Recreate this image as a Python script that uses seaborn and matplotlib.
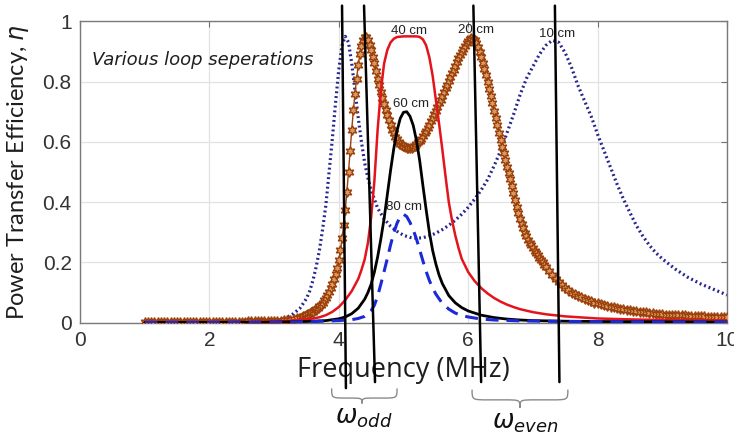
import numpy as np
import pandas as pd
import matplotlib
matplotlib.use("Agg")
import matplotlib.pyplot as plt
import seaborn as sns
from matplotlib.path import Path
from matplotlib.patches import PathPatch

# ---------------- data ----------------
# 10 cm separation (navy dotted)
f10 = [1.0, 1.5, 2.0, 2.5, 2.8, 3.0, 3.1, 3.2, 3.3, 3.4, 3.5,
       3.55, 3.6, 3.65, 3.7, 3.75, 3.8, 3.85, 3.9, 3.95, 4.0, 4.05, 4.1, 4.15, 4.2,
       4.25, 4.3, 4.35, 4.4, 4.45, 4.5,
       4.6, 4.7, 4.8, 4.9, 5.0, 5.1, 5.2, 5.3, 5.4, 5.5,
       5.6, 5.7, 5.8, 5.9, 6.0, 6.1, 6.2, 6.3, 6.4, 6.5,
       6.6, 6.7, 6.8, 6.9, 7.0, 7.1, 7.2, 7.3, 7.4, 7.5,
       7.6, 7.7, 7.8, 7.9, 8.0, 8.1, 8.2, 8.3, 8.4, 8.5,
       8.6, 8.7, 8.8, 8.9, 9.0, 9.2, 9.4, 9.6, 9.8, 10.0]
eta10 = [0.001, 0.001, 0.001, 0.002, 0.004, 0.006, 0.010, 0.018, 0.030, 0.048, 0.080,
         0.105, 0.140, 0.185, 0.240, 0.310, 0.390, 0.500, 0.610, 0.730, 0.840, 0.920, 0.950, 0.930, 0.860,
         0.770, 0.680, 0.600, 0.530, 0.480, 0.440,
         0.380, 0.345, 0.320, 0.303, 0.290, 0.283, 0.280, 0.282, 0.288, 0.297,
         0.309, 0.323, 0.340, 0.360, 0.383, 0.410, 0.440, 0.475, 0.520, 0.570,
         0.630, 0.690, 0.755, 0.810, 0.850, 0.890, 0.920, 0.937, 0.930, 0.895,
         0.845, 0.785, 0.735, 0.685, 0.625, 0.570, 0.515, 0.460, 0.410, 0.365,
         0.322, 0.287, 0.257, 0.232, 0.212, 0.178, 0.150, 0.128, 0.110, 0.092]

# 20 cm separation (brown, hexagram markers) - sampled on a fine frequency grid
f20 = np.round(np.concatenate([np.arange(1.0, 3.401, 0.05),
                               np.arange(3.425, 7.2001, 0.025),
                               np.arange(7.25, 10.0001, 0.05)]), 3)
eta20 = [
    # 1.00 - 3.40 (step 0.05)
    0.002, 0.002, 0.002, 0.002, 0.002, 0.002, 0.002, 0.002, 0.002, 0.002, 0.002,
    0.002, 0.002, 0.002, 0.002, 0.002, 0.002, 0.002, 0.002, 0.002, 0.002,
    0.002, 0.002, 0.002, 0.002, 0.002, 0.003, 0.003, 0.003, 0.003, 0.003,
    0.003, 0.004, 0.004, 0.004, 0.004, 0.005, 0.005, 0.005, 0.006, 0.006,
    0.007, 0.007, 0.008, 0.009, 0.010, 0.012, 0.014, 0.016,
    # 3.425 - 3.975 (step 0.025)
    0.018, 0.021, 0.023, 0.026, 0.028, 0.031, 0.034, 0.037, 0.041, 0.045, 0.049, 0.054,
    0.060, 0.067, 0.075, 0.083, 0.092, 0.103, 0.115, 0.130, 0.146, 0.160, 0.182,
    # 4.000 - 4.975
    0.208, 0.240, 0.280, 0.325, 0.375, 0.435, 0.500, 0.570, 0.640, 0.705,
    0.760, 0.810, 0.855, 0.890, 0.918, 0.938, 0.948, 0.948, 0.938, 0.923,
    0.905, 0.883, 0.860, 0.835, 0.810, 0.787, 0.765, 0.744, 0.725, 0.707,
    0.690, 0.672, 0.655, 0.641, 0.628, 0.617, 0.608, 0.600, 0.594, 0.589,
    # 5.000 - 5.975
    0.585, 0.582, 0.580, 0.579, 0.579, 0.580, 0.583, 0.587, 0.592, 0.598,
    0.604, 0.611, 0.619, 0.628, 0.637, 0.647, 0.657, 0.668, 0.680, 0.692,
    0.704, 0.716, 0.728, 0.740, 0.753, 0.765, 0.778, 0.790, 0.803, 0.815,
    0.828, 0.840, 0.853, 0.865, 0.877, 0.888, 0.898, 0.908, 0.918, 0.927,
    # 6.000 - 6.975
    0.934, 0.940, 0.943, 0.942, 0.937, 0.927, 0.915, 0.899, 0.882, 0.863,
    0.843, 0.822, 0.800, 0.776, 0.752, 0.728, 0.703, 0.679, 0.655, 0.631,
    0.607, 0.584, 0.562, 0.540, 0.518, 0.497, 0.477, 0.453, 0.430, 0.407,
    0.385, 0.364, 0.345, 0.328, 0.313, 0.299, 0.287, 0.276, 0.266, 0.257,
    # 7.000 - 7.200
    0.248, 0.239, 0.231, 0.223, 0.215, 0.208, 0.200, 0.193, 0.186,
    # 7.25 - 10.0 (step 0.05)
    0.172, 0.158, 0.146, 0.134, 0.124, 0.115, 0.107, 0.100, 0.094, 0.089,
    0.084, 0.079, 0.075, 0.071, 0.067, 0.064, 0.061, 0.058, 0.055, 0.053,
    0.051, 0.049, 0.047, 0.045, 0.043, 0.041, 0.040, 0.038, 0.036, 0.035,
    0.034, 0.032, 0.031, 0.030, 0.029, 0.028, 0.027, 0.026, 0.026, 0.025,
    0.025, 0.024, 0.024, 0.023, 0.023, 0.022, 0.022, 0.021, 0.021, 0.020,
    0.020, 0.019, 0.019, 0.019, 0.018, 0.018]

# 40 cm separation (red solid)
f40 = [1.0, 2.0, 2.5, 3.0, 3.2, 3.4, 3.6, 3.7, 3.8, 3.9, 4.0, 4.1, 4.2, 4.3,
       4.35, 4.4, 4.45, 4.5, 4.55, 4.6, 4.65, 4.7, 4.75, 4.8, 4.85, 4.9,
       5.0, 5.1, 5.2,
       5.25, 5.3, 5.35, 5.4, 5.45, 5.5, 5.55, 5.6, 5.65, 5.7, 5.75, 5.8, 5.85, 5.9,
       6.0, 6.1, 6.2, 6.3, 6.4, 6.5, 6.6, 6.7, 6.8,
       7.0, 7.2, 7.5, 8.0, 8.5, 9.0, 9.5, 10.0]
eta40 = [0.001, 0.001, 0.002, 0.004, 0.006, 0.009, 0.014, 0.018, 0.025, 0.036, 0.052, 0.075, 0.105, 0.145,
         0.175, 0.210, 0.265, 0.350, 0.470, 0.640, 0.770, 0.860, 0.905, 0.930, 0.942, 0.948,
         0.950, 0.950, 0.950,
         0.948, 0.940, 0.920, 0.880, 0.820, 0.740, 0.660, 0.575, 0.485, 0.400, 0.340, 0.290, 0.248, 0.212,
         0.168, 0.138, 0.115, 0.097, 0.082, 0.070, 0.060, 0.052, 0.045,
         0.035, 0.028, 0.021, 0.014, 0.011, 0.009, 0.008, 0.007]

# 60 cm separation (black solid)
f60 = [1.0, 2.0, 3.0, 3.5, 3.8, 4.0, 4.1, 4.2, 4.3, 4.4,
       4.45, 4.5, 4.55, 4.6, 4.65, 4.7, 4.75, 4.8, 4.85, 4.9, 4.95, 5.0,
       5.05, 5.1, 5.15, 5.2, 5.25, 5.3, 5.35, 5.4, 5.45, 5.5, 5.55, 5.6,
       5.7, 5.8, 5.9, 6.0, 6.2, 6.4, 6.6, 6.8, 7.0, 7.5, 8.0, 9.0, 10.0]
eta60 = [0.001, 0.001, 0.002, 0.004, 0.007, 0.013, 0.019, 0.030, 0.048, 0.078,
         0.100, 0.128, 0.168, 0.218, 0.278, 0.345, 0.425, 0.505, 0.578, 0.637, 0.678, 0.698,
         0.700, 0.685, 0.655, 0.605, 0.538, 0.455, 0.375, 0.300, 0.240, 0.195, 0.158, 0.130,
         0.090, 0.066, 0.050, 0.039, 0.025, 0.017, 0.012, 0.009, 0.007, 0.005, 0.004, 0.003, 0.002]

# 80 cm separation (blue dashed)
f80 = [1.0, 2.0, 3.0, 3.5, 4.0, 4.2, 4.3, 4.4,
       4.45, 4.5, 4.55, 4.6, 4.65, 4.7, 4.75, 4.8, 4.85, 4.9, 4.95, 5.0,
       5.05, 5.1, 5.15, 5.2, 5.25, 5.3, 5.35, 5.4, 5.45, 5.5,
       5.6, 5.7, 5.8, 5.9, 6.0, 6.2, 6.4, 6.8, 7.5, 8.5, 10.0]
eta80 = [0.001, 0.001, 0.002, 0.003, 0.007, 0.010, 0.014, 0.021,
         0.029, 0.040, 0.058, 0.088, 0.128, 0.170, 0.213, 0.258, 0.298, 0.330, 0.352, 0.360,
         0.352, 0.333, 0.308, 0.278, 0.242, 0.205, 0.170, 0.140, 0.115, 0.095,
         0.064, 0.045, 0.032, 0.024, 0.019, 0.012, 0.009, 0.006, 0.004, 0.003, 0.002]

# curve labels: text, frequency, efficiency
curve_labels = ["10 cm", "20 cm", "40 cm", "60 cm", "80 cm"]
label_f = [7.37, 6.12, 5.08, 5.12, 5.01]
label_eta = [0.958, 0.970, 0.968, 0.727, 0.384]

# odd / even mode marker lines (frequency at top and bottom of each hand-drawn line)
mode_f_top = [4.05, 4.39, 6.08, 7.34]
mode_f_bottom = [4.11, 4.56, 6.20, 7.41]

xticks = [0, 2, 4, 6, 8, 10]
yticks = [0, 0.2, 0.4, 0.6, 0.8, 1]
ytick_labels = ["0", "0.2", "0.4", "0.6", "0.8", "1"]

# ---------------- styling ----------------
sns.set_theme(style="whitegrid")
plt.rcParams['font.family'] = ['Liberation Sans', 'DejaVu Sans']
plt.rcParams['mathtext.fontset'] = 'dejavusans'

fig = plt.figure(figsize=(7.34, 4.36), dpi=100)
fig.patch.set_facecolor("white")
W, H = 734.0, 436.0
ax = fig.add_axes([80 / W, 1 - 322.7 / H, (727 - 80) / W, (322.7 - 21.3) / H])
ax.set_facecolor("white")

sns.lineplot(x=f10, y=eta10, ax=ax, color="#26268f", lw=2.3,
             linestyle=(0, (0.6, 0.9)), estimator=None, zorder=2)
sns.lineplot(x=f20, y=eta20, ax=ax, color="#9a400c", lw=1.0,
             marker=(6, 1, 0), markersize=7, markerfacecolor="#d99a62",
             markeredgecolor="#9c400b", markeredgewidth=1.0, estimator=None, zorder=3)
sns.lineplot(x=f40, y=eta40, ax=ax, color="#e3141c", lw=1.8, estimator=None, zorder=4)
sns.lineplot(x=f60, y=eta60, ax=ax, color="#000000", lw=2.0, estimator=None, zorder=4)
sns.lineplot(x=f80, y=eta80, ax=ax, color="#1b2ad6", lw=2.2,
             linestyle=(0, (4.2, 2.6)), estimator=None, zorder=4)

ax.set_xlim(0, 10)
ax.set_ylim(0, 1)
ax.set_xticks(xticks)
ax.set_xticklabels([str(t) for t in xticks])
ax.set_yticks(yticks)
ax.set_yticklabels(ytick_labels)
ax.tick_params(direction="in", length=4, width=0.8, top=True, right=True,
               labelsize=15, labelcolor="#333333", color="#6f6f6f", pad=6)
ax.grid(True, color="#e2e2e2", lw=0.9)
for s in ax.spines.values():
    s.set_visible(True)
    s.set_color("#7a7a7a")
    s.set_linewidth(1.0)

ax.set_xlabel("Frequency (MHz)", fontsize=19.5, family="Open Sans",
              color="#1e1e1e", labelpad=4)
ax.set_ylabel(r"Power Transfer Efficiency, $\eta$", fontsize=17, family="Lato",
              color="#1e1e1e", labelpad=8)

ax.text(0.18, 0.872, "Various loop seperations", style="italic",
        family="DejaVu Sans", fontsize=13, color="#1e1e1e", ha="left", va="center")

for t, fx, fy in zip(curve_labels, label_f, label_eta):
    ax.text(fx, fy, t, fontsize=9.5, color="#222222", ha="center", va="center", zorder=6)

# hand-drawn mode lines (extend outside the axes)
bottoms = [-0.217, -0.197, -0.197, -0.197]
for xt, xb, yb in zip(mode_f_top, mode_f_bottom, bottoms):
    ax.plot([xt, xb], [1.052, yb], color="black", lw=1.8, clip_on=False, zorder=7)


def brace(x0, x1, xtip, ytop, ymid, ytip, dx):
    verts = [(x0, ytop), (x0, ymid), (x0, ymid), (x0 + dx, ymid),
             (xtip - dx, ymid),
             (xtip, ymid), (xtip, ymid), (xtip, ytip),
             (xtip, ymid), (xtip, ymid), (xtip + dx, ymid),
             (x1 - dx, ymid),
             (x1, ymid), (x1, ymid), (x1, ytop)]
    codes = [Path.MOVETO, Path.CURVE4, Path.CURVE4, Path.CURVE4,
             Path.LINETO,
             Path.CURVE4, Path.CURVE4, Path.CURVE4,
             Path.CURVE4, Path.CURVE4, Path.CURVE4,
             Path.LINETO,
             Path.CURVE4, Path.CURVE4, Path.CURVE4]
    p = PathPatch(Path(verts, codes), fill=False, edgecolor="#8a8a8a", lw=1.0,
                  clip_on=False, transform=ax.transData)
    ax.add_patch(p)


brace(3.89, 4.90, 4.36, -0.218, -0.250, -0.268, 0.22)
brace(6.06, 7.54, 6.80, -0.222, -0.256, -0.282, 0.25)

ax.text(4.38, -0.315, r"$\omega_{odd}$", fontsize=18.5, color="#111111",
        ha="center", va="center", clip_on=False)
ax.text(6.89, -0.333, r"$\omega_{even}$", fontsize=18.5, color="#111111",
        ha="center", va="center", clip_on=False)

fig.savefig("out.png", dpi=100, facecolor="white")
